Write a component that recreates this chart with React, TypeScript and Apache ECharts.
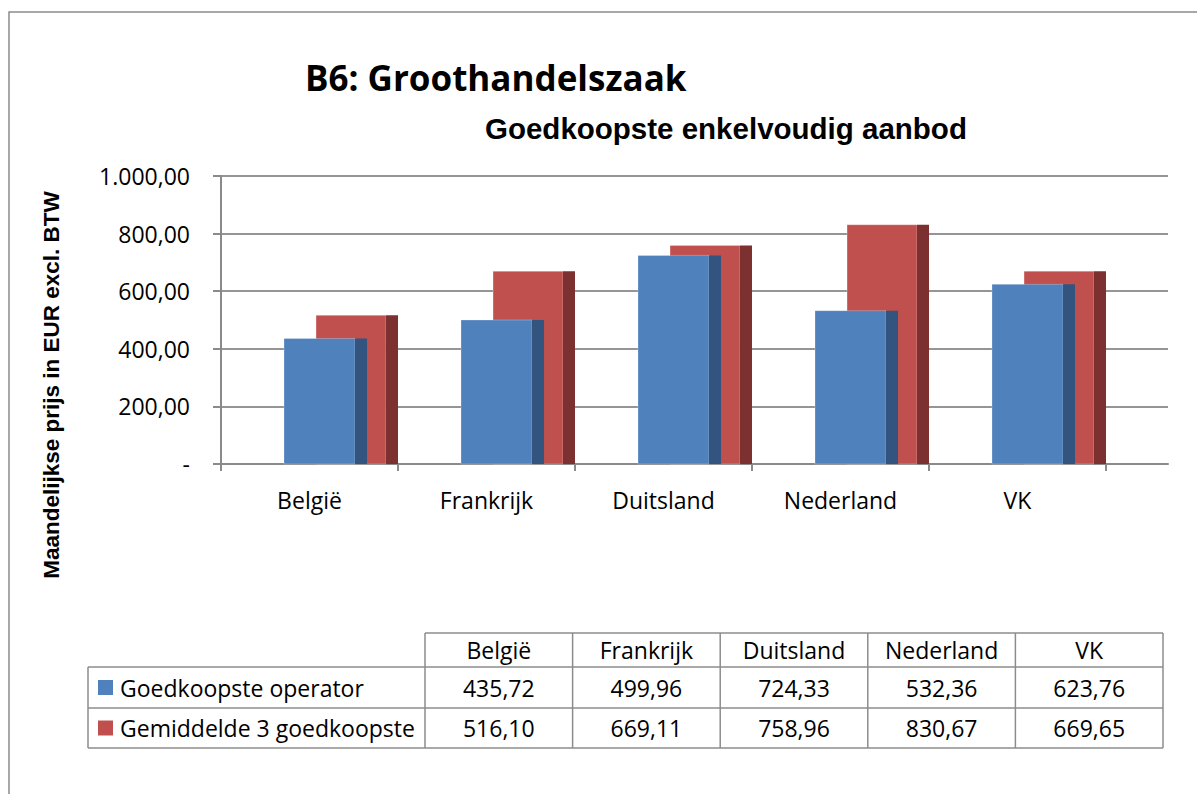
import React, { useEffect, useRef } from "react";
import * as echarts from "echarts";

const categories = ["België", "Frankrijk", "Duitsland", "Nederland", "VK"];
const seriesNames = ["Goedkoopste operator", "Gemiddelde 3 goedkoopste"];
const cheapest = [435.72, 499.96, 724.33, 532.36, 623.76];
const average3 = [516.1, 669.11, 758.96, 830.67, 669.65];

const TITLE = "B6: Groothandelszaak";
const SUBTITLE = "Goedkoopste enkelvoudig aanbod";
const Y_NAME = "Maandelijkse prijs in EUR excl. BTW";

const BODY_FONT = "'Open Sans', Lato, 'Noto Sans', sans-serif";
const ARIAL = "Arial, 'Liberation Sans', sans-serif";

const BLUE = "#4F81BD";
const BLUE_SIDE = "#32547F";
const RED = "#C0504D";
const RED_SIDE = "#7D3030";
const GRID_COL = "#959595";

function fmtNum(v: number): string {
  const fixed = v.toFixed(2);
  const [intPart, dec] = fixed.split(".");
  const withSep = intPart.replace(/\B(?=(\d{3})+(?!\d))/g, ".");
  return withSep + "," + dec;
}

function makeBarRenderer(frontFrom: number, frontTo: number, sideTo: number, front: string, side: string) {
  return (params: any, api: any) => {
    const idx = api.value(0);
    const val = api.value(1);
    const top = api.coord([idx, val]);
    const base = api.coord([idx, 0]);
    const w = api.size([1, 0])[0];
    const c = top[0];
    const x0 = c + frontFrom * w;
    const x1 = c + frontTo * w;
    const x2 = c + sideTo * w;
    const h = base[1] - top[1];
    return {
      type: "group",
      children: [
        {
          type: "rect",
          shape: { x: x0, y: top[1], width: x1 - x0, height: h },
          style: { fill: front, stroke: "rgba(255,255,255,0.25)", lineWidth: 1 },
        },
        {
          type: "rect",
          shape: { x: x1, y: top[1], width: x2 - x1, height: h },
          style: { fill: side },
        },
      ],
    };
  };
}

function buildTable(): any[] {
  const els: any[] = [];
  const tableLeft = 88;
  const labelRight = 425;
  const tableRight = 1163;
  const rowY = [633, 667, 708, 748];
  const colW = (tableRight - labelRight) / categories.length;
  const lineStyle = { stroke: "#8c8c8c", lineWidth: 1.5 };
  els.push({ type: "line", shape: { x1: labelRight, y1: rowY[0], x2: tableRight, y2: rowY[0] }, style: lineStyle });
  for (let r = 1; r < rowY.length; r++) {
    els.push({ type: "line", shape: { x1: tableLeft, y1: rowY[r], x2: tableRight, y2: rowY[r] }, style: lineStyle });
  }
  els.push({ type: "line", shape: { x1: tableLeft, y1: rowY[1], x2: tableLeft, y2: rowY[3] }, style: lineStyle });
  for (let i = 0; i <= categories.length; i++) {
    const x = labelRight + i * colW;
    els.push({ type: "line", shape: { x1: x, y1: rowY[0], x2: x, y2: rowY[3] }, style: lineStyle });
  }
  const textStyle = { fontFamily: BODY_FONT, fontSize: 23, fill: "#000" };
  categories.forEach((cat, i) => {
    els.push({
      type: "text",
      x: labelRight + (i + 0.5) * colW,
      y: (rowY[0] + rowY[1]) / 2,
      style: { ...textStyle, text: cat, align: "center", verticalAlign: "middle" },
    });
  });
  const rows = [
    { name: seriesNames[0], color: BLUE, values: cheapest },
    { name: seriesNames[1], color: RED, values: average3 },
  ];
  rows.forEach((row, r) => {
    const cy = (rowY[r + 1] + rowY[r + 2]) / 2;
    els.push({ type: "rect", shape: { x: 98, y: cy - 7.5, width: 15, height: 15 }, style: { fill: row.color } });
    els.push({
      type: "text",
      x: 120,
      y: cy,
      style: { ...textStyle, text: row.name, align: "left", verticalAlign: "middle" },
    });
    row.values.forEach((v, i) => {
      els.push({
        type: "text",
        x: labelRight + (i + 0.5) * colW,
        y: cy,
        style: { ...textStyle, text: fmtNum(v), align: "center", verticalAlign: "middle" },
      });
    });
  });
  return els;
}

export default function App() {
  const ref = useRef<HTMLDivElement>(null);
  useEffect(() => {
    document.body.style.margin = "0";
    if (!ref.current) return;
    const chart = echarts.init(ref.current, undefined, { renderer: "svg" });
    const axisLine = { show: true, lineStyle: { color: "#8a8a8a", width: 2 } };
    const option: any = {
      animation: false,
      backgroundColor: "#fff",
      grid: [
        { left: 221, right: 1197 - 1106, top: 176, bottom: 794 - 464 },
        { left: 221, right: 1197 - 1168, top: 176, bottom: 794 - 464 },
      ],
      xAxis: [
        {
          type: "category",
          gridIndex: 0,
          data: categories,
          boundaryGap: true,
          axisLine: { show: false },
          axisTick: { show: true, alignWithLabel: false, length: 7, lineStyle: { color: "#8a8a8a", width: 2 } },
          axisLabel: { margin: 24, fontFamily: BODY_FONT, fontSize: 23, color: "#000" },
          splitLine: { show: false },
        },
        {
          type: "value",
          gridIndex: 1,
          min: 0,
          max: 1,
          show: true,
          axisLine: axisLine,
          axisTick: { show: false },
          axisLabel: { show: false },
          splitLine: { show: false },
        },
      ],
      yAxis: [
        {
          type: "value",
          gridIndex: 0,
          min: 0,
          max: 1000,
          interval: 200,
          show: false,
        },
        {
          type: "value",
          gridIndex: 1,
          min: 0,
          max: 1000,
          interval: 200,
          axisLine: axisLine,
          axisTick: { show: true, length: 8, lineStyle: { color: "#8a8a8a", width: 2 } },
          axisLabel: {
            margin: 31,
            fontFamily: BODY_FONT,
            fontSize: 23,
            color: "#000",
            formatter: (v: number) => (v === 0 ? "-" : fmtNum(v)),
          },
          splitLine: { show: true, lineStyle: { color: GRID_COL, width: 2 } },
        },
      ],
      graphic: [
        {
          type: "rect",
          shape: { x: 9, y: 12, width: 1300, height: 900 },
          style: { fill: "none", stroke: "#8c8c8c", lineWidth: 1.5 },
          z: -1,
        },
        {
          type: "text",
          x: 305,
          y: 77,
          style: {
            text: TITLE,
            fontFamily: BODY_FONT,
            fontSize: 35,
            fontWeight: "bold",
            fill: "#000",
            align: "left",
            verticalAlign: "middle",
          },
        },
        {
          type: "text",
          x: 485,
          y: 128,
          style: {
            text: SUBTITLE,
            fontFamily: ARIAL,
            fontSize: 29.5,
            fontWeight: "bold",
            fill: "#000",
            align: "left",
            verticalAlign: "middle",
          },
        },
        {
          type: "text",
          x: 51,
          y: 385,
          rotation: Math.PI / 2,
          style: {
            text: Y_NAME,
            fontFamily: ARIAL,
            fontSize: 22.5,
            fontWeight: "bold",
            fill: "#000",
            align: "center",
            verticalAlign: "middle",
          },
        },
        ...buildTable(),
      ],
      series: [
        {
          type: "custom",
          name: seriesNames[1],
          xAxisIndex: 0,
          yAxisIndex: 0,
          data: average3.map((v, i) => [i, v]),
          renderItem: makeBarRenderer(0.037, 0.432, 0.5, RED, RED_SIDE),
          z: 3,
        },
        {
          type: "custom",
          name: seriesNames[0],
          xAxisIndex: 0,
          yAxisIndex: 0,
          data: cheapest.map((v, i) => [i, v]),
          renderItem: makeBarRenderer(-0.144, 0.257, 0.325, BLUE, BLUE_SIDE),
          z: 4,
        },
      ],
    };
    chart.setOption(option);
    return () => chart.dispose();
  }, []);
  return <div ref={ref} style={{ width: 1197, height: 794 }} />;
}
